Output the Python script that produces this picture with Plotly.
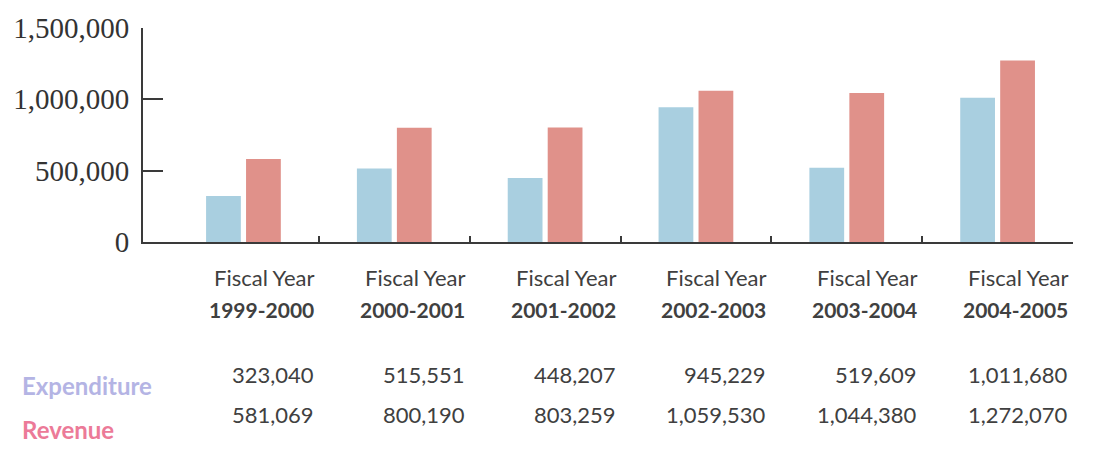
import plotly.graph_objects as go

# Fiscal years and amounts
years = ["1999-2000", "2000-2001", "2001-2002", "2002-2003", "2003-2004", "2004-2005"]
expenditure = [323040, 515551, 448207, 945229, 519609, 1011680]
revenue = [581069, 800190, 803259, 1059530, 1044380, 1272070]
y_ticks = [0, 500000, 1000000, 1500000]

BLUE = "#a9cfe0"
RED = "#e0918a"
TXT = "#404040"
AXIS = "#3a3a3a"

W, H = 1094, 458
L, R, T, B = 143, 21, 20, 216
plot_h = H - T - B
plot_w = W - L - R


def py(p):
    """Pixel row -> paper y."""
    return (H - B - p) / plot_h


def px(p):
    """Pixel column -> paper x."""
    return (p - L) / plot_w


xs = list(range(len(years)))

fig = go.Figure()
fig.add_trace(go.Bar(x=xs, y=expenditure, name="Expenditure",
                     marker=dict(color=BLUE, line=dict(width=0))))
fig.add_trace(go.Bar(x=xs, y=revenue, name="Revenue",
                     marker=dict(color=RED, line=dict(width=0))))

annotations = []
for i, yr in enumerate(years):
    xr = i + 0.48
    annotations.append(dict(x=xr, y=py(279), xref="x", yref="paper",
                            text="Fiscal Year", showarrow=False,
                            xanchor="right", yanchor="middle",
                            font=dict(family="Lato", size=22, color=TXT)))
    annotations.append(dict(x=xr, y=py(312), xref="x", yref="paper",
                            text=f"<b>{yr}</b>", showarrow=False,
                            xanchor="right", yanchor="middle",
                            font=dict(family="Lato", size=21, color=TXT)))
    annotations.append(dict(x=xr, y=py(379), xref="x", yref="paper",
                            text=f"{expenditure[i]:,}", showarrow=False,
                            xanchor="right", yanchor="middle",
                            font=dict(family="Lato", size=22, color=TXT)))
    annotations.append(dict(x=xr, y=py(421), xref="x", yref="paper",
                            text=f"{revenue[i]:,}", showarrow=False,
                            xanchor="right", yanchor="middle",
                            font=dict(family="Lato", size=22, color=TXT)))

annotations.append(dict(x=px(20), y=py(391), xref="paper", yref="paper",
                        text="<b>Expenditure</b>", showarrow=False,
                        xanchor="left", yanchor="middle",
                        font=dict(family="Lato", size=24, color="#b4b4e4")))
annotations.append(dict(x=px(20), y=py(437), xref="paper", yref="paper",
                        text="<b>Revenue</b>", showarrow=False,
                        xanchor="left", yanchor="middle",
                        font=dict(family="Lato", size=24, color="#ec7a98")))

fig.update_layout(
    width=W, height=H,
    margin=dict(l=L, r=R, t=T, b=B),
    paper_bgcolor="white", plot_bgcolor="white",
    barmode="group", bargap=0.47, bargroupgap=0.13,
    showlegend=False,
    annotations=annotations,
    xaxis=dict(range=[-0.666, 5.5], tickmode="array",
               tickvals=[i + 0.5 for i in xs], showticklabels=False,
               ticks="inside", ticklen=6, tickwidth=2, tickcolor=AXIS,
               showline=True, linecolor=AXIS, linewidth=2,
               showgrid=False, zeroline=False),
    yaxis=dict(range=[0, 1500000], tickmode="array", tickvals=y_ticks,
               ticktext=[f"{v:,}" for v in y_ticks],
               ticks="inside", ticklen=20, tickwidth=2, tickcolor=AXIS,
               showline=True, linecolor=AXIS, linewidth=2,
               showgrid=False, zeroline=False,
               tickfont=dict(family="Liberation Serif", size=29, color="#333333"),
               ticklabelstandoff=6),
)

fig.write_html("out.html")
